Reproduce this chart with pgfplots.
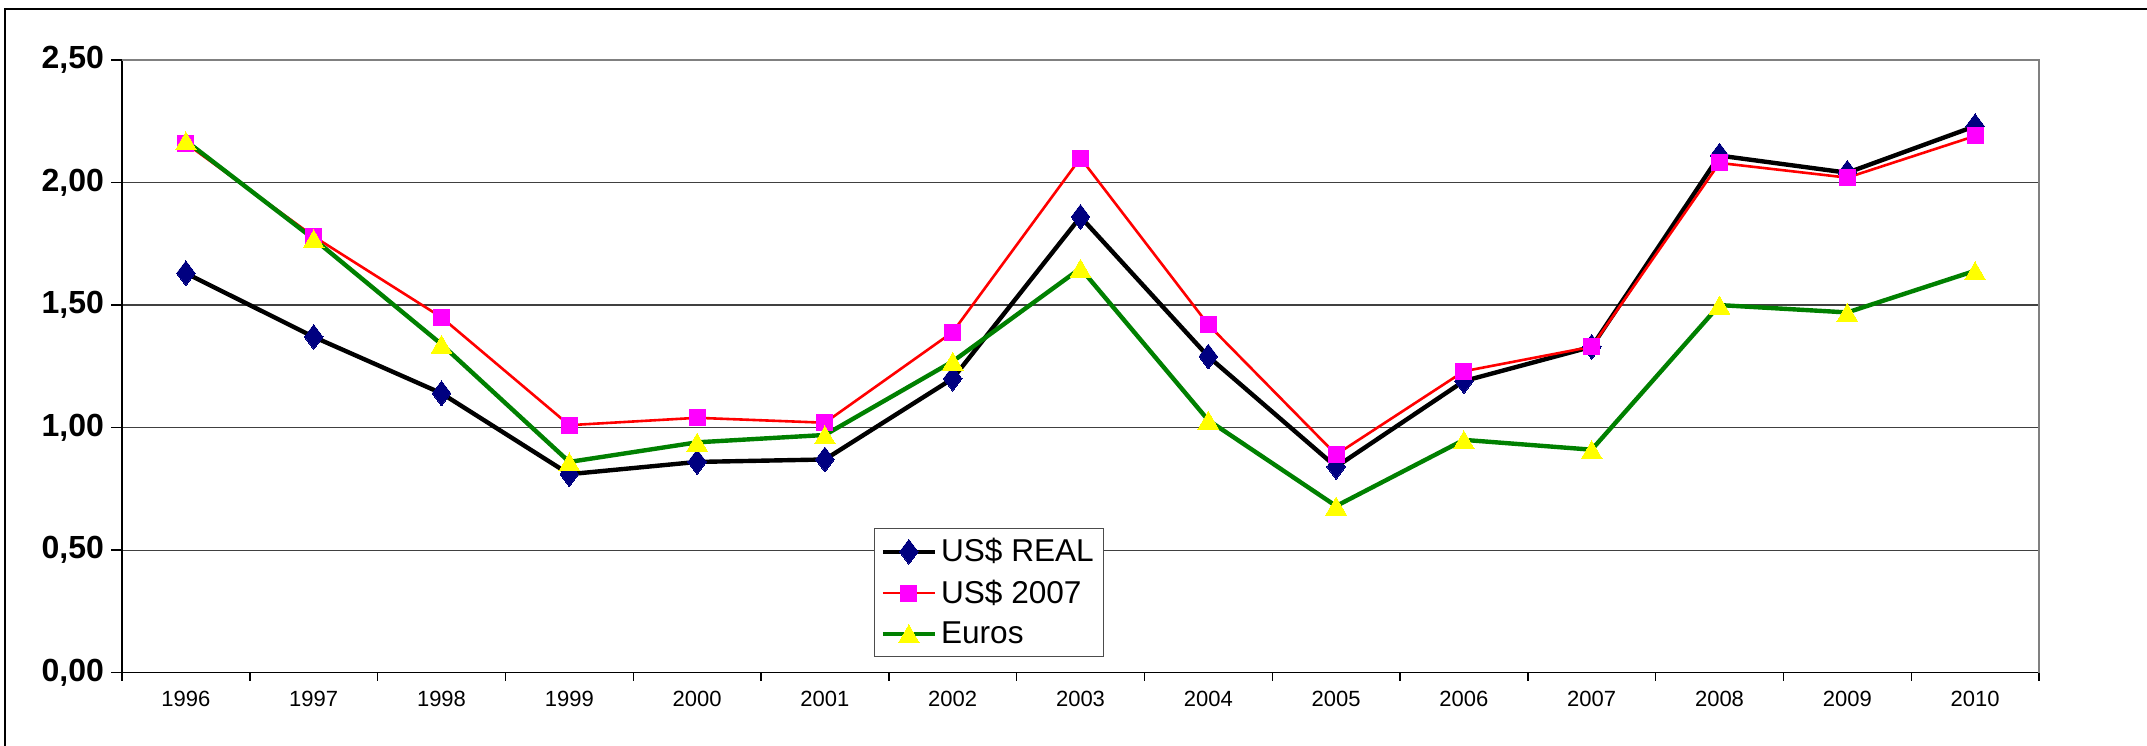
\documentclass[border=0pt]{standalone}
\usepackage{fontspec}
\setmainfont{Liberation Sans}
\usepackage{pgfplots}
\pgfplotsset{compat=1.18}
\definecolor{navyc}{RGB}{0,0,128}
\definecolor{grc}{RGB}{0,128,0}
\definecolor{magc}{RGB}{255,0,255}
\definecolor{yelc}{RGB}{255,255,0}
\begin{document}
\begin{tikzpicture}
\begin{axis}[
  at={(61pt,36.15pt)}, anchor=south west,
  width=958.5pt, height=306.35pt, scale only axis,
  xmin=-0.5, xmax=14.5, ymin=0, ymax=2.5,
  axis lines=left, axis line style={-, black, line width=0.7pt},
  tick align=outside,
  xtick={0,...,14},
  xticklabels={1996,1997,1998,1999,2000,2001,2002,2003,2004,2005,2006,2007,2008,2009,2010},
  minor xtick={-0.5,0.5,...,14.5},
  every major x tick/.append style={draw=none},
  minor tick length=4pt, major tick length=5.5pt,
  every tick/.append style={black, line width=0.7pt},
  ytick={0,0.5,1,1.5,2,2.5},
  ymajorgrids, major grid style={black!75, line width=0.6pt},
  yticklabel style={font=\bfseries\fontsize{16}{18}\selectfont,
    /pgf/number format/.cd, fixed, fixed zerofill, precision=2, use comma, assume math mode=true},
  xticklabel style={font=\fontsize{11}{13}\selectfont},
  legend style={at={(0.3923,0.2362)}, anchor=north west, draw=black!70, line width=0.6pt,
    fill=white, font=\fontsize{15.8}{19}\selectfont, row sep=3.5pt, inner xsep=3pt, inner ysep=3pt},
  legend cell align=left,
  legend image code/.code={\draw[mark repeat=2, mark phase=2] plot coordinates {(0pt,0pt)(13pt,0pt)(26pt,0pt)};},
  clip=false,
]
\addplot[black, line width=2.2pt, mark=diamond*, mark size=6.2pt, mark options={draw=navyc, fill=navyc, line width=0pt, solid}]
 coordinates {(0,1.63)(1,1.37)(2,1.14)(3,0.81)(4,0.86)(5,0.87)(6,1.20)(7,1.86)(8,1.29)(9,0.84)(10,1.19)(11,1.33)(12,2.11)(13,2.04)(14,2.23)};
\addlegendentry{US\$ REAL}
\addplot[red, line width=1.3pt, mark=square*, mark size=4pt, mark options={draw=magc, fill=magc, line width=0pt, solid}]
 coordinates {(0,2.16)(1,1.78)(2,1.45)(3,1.01)(4,1.04)(5,1.02)(6,1.39)(7,2.10)(8,1.42)(9,0.89)(10,1.23)(11,1.33)(12,2.08)(13,2.02)(14,2.19)};
\addlegendentry{US\$ 2007}
\addplot[grc, line width=2.2pt, mark=triangle*, mark size=6pt, mark options={draw=yelc, fill=yelc, line width=0pt, solid, yshift=-1.5pt}]
 coordinates {(0,2.17)(1,1.77)(2,1.34)(3,0.86)(4,0.94)(5,0.97)(6,1.27)(7,1.65)(8,1.03)(9,0.68)(10,0.95)(11,0.91)(12,1.50)(13,1.47)(14,1.64)};
\addlegendentry{Euros}
\draw[black!50, line width=0.8pt] (rel axis cs:0,1) -- (rel axis cs:1,1) -- (rel axis cs:1,0);
\end{axis}
\draw[black, line width=0.8pt] (2.5pt,-3pt) -- (2.5pt,368pt) -- (1080pt,368pt);
\pgfresetboundingbox
\path[use as bounding box] (0,0) rectangle (1073.5pt,372.5pt);
\end{tikzpicture}
\end{document}
